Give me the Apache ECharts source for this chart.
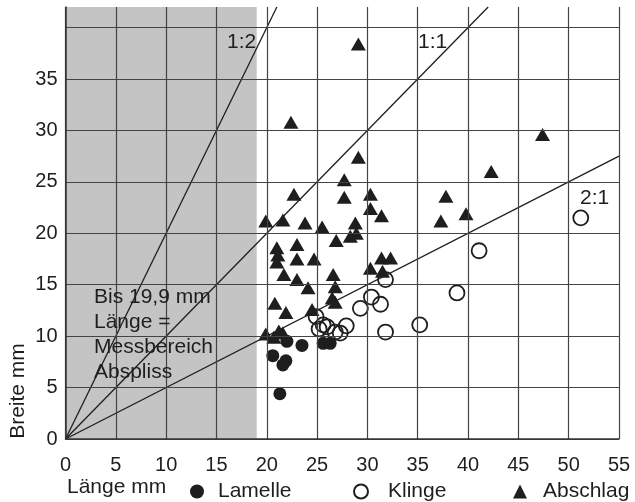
<!DOCTYPE html>
<html>
<head>
<meta charset="utf-8">
<script src="https://cdn.jsdelivr.net/npm/echarts@6/dist/echarts.min.js"></script>
<style>
  html, body { margin: 0; padding: 0; background: #fff; }
  #chart { width: 635px; height: 502px; }
</style>
</head>
<body>
<div id="chart"></div>
<script>
// Länge / Breite of the pieces, in mm: [Länge, Breite]
const lamelle = [
  [22.0, 9.5], [23.5, 9.1], [20.6, 8.1], [21.6, 7.2], [21.9, 7.6],
  [21.3, 4.4], [25.6, 9.3], [26.3, 9.3]
];
const klinge = [
  [51.2, 21.5], [41.1, 18.3], [38.9, 14.2], [35.2, 11.1], [31.8, 15.5],
  [30.4, 13.8], [31.3, 13.1], [29.3, 12.7], [31.8, 10.4], [27.9, 11.0],
  [27.3, 10.3], [26.8, 10.4], [26.0, 10.9], [25.2, 10.7], [24.9, 11.9],
  [25.6, 11.1]
];
const abschlag = [
  [29.1, 38.4], [22.4, 30.8], [29.1, 27.4], [47.4, 29.6], [42.3, 26.0],
  [37.8, 23.6], [37.3, 21.2], [39.8, 21.9], [27.7, 25.2], [27.7, 23.5],
  [30.3, 23.8], [30.3, 22.4], [31.4, 21.7], [22.7, 23.8], [19.9, 21.2],
  [21.6, 21.3], [23.8, 21.0], [25.5, 20.6], [28.8, 21.0], [28.9, 20.0],
  [28.3, 19.7], [26.9, 19.3], [23.0, 18.9], [21.0, 18.6], [21.1, 17.9],
  [23.0, 17.5], [24.7, 17.5], [21.0, 17.2], [31.4, 17.6], [32.3, 17.6],
  [30.3, 16.6], [31.5, 16.3], [21.7, 16.0], [23.0, 15.5], [26.6, 16.0],
  [24.1, 14.7], [26.8, 14.8], [26.5, 13.7], [26.8, 13.3], [20.8, 13.2],
  [21.9, 12.3], [24.5, 12.6], [19.9, 10.2], [21.2, 10.5], [20.7, 9.9],
  [21.6, 10.3]
];

// Breite : Länge reference ratios, drawn as rays from the origin
const ratioNames = ['1:2', '1:1', '2:1'];
const ratioSlopes = [2, 1, 0.5];

// Axis ranges
const xMax = 55;
const yMax = 42;
const tickStep = 5;
// Upper end of the grey measuring band
const messbereichEnd = 19;

const ink = '#1e1e1e';
const font = '"Liberation Sans", Arial, sans-serif';

function rayEnd(slope) {
  const y = slope * xMax;
  return y <= yMax ? [xMax, y] : [yMax / slope, yMax];
}

const ratioSeries = ratioSlopes.map((s, i) => ({
  name: ratioNames[i],
  type: 'line',
  data: [[0, 0], rayEnd(s)],
  symbol: 'none',
  silent: true,
  lineStyle: { color: ink, width: 1.3 },
  z: 1
}));

const chart = echarts.init(document.getElementById('chart'), null, { renderer: 'canvas' });

chart.setOption({
  animation: false,
  backgroundColor: '#fff',
  textStyle: { fontFamily: font, color: ink },
  grid: { left: 65.5, right: 16, top: 7, bottom: 63, containLabel: false },
  xAxis: {
    type: 'value', min: 0, max: xMax, interval: tickStep, z: 10,
    axisLine: { lineStyle: { color: '#333', width: 1.5 } },
    axisTick: { show: false },
    axisLabel: { fontSize: 20, color: ink, margin: 16, fontFamily: font },
    splitLine: { lineStyle: { color: '#444', width: 1.2 } }
  },
  yAxis: {
    type: 'value', min: 0, max: yMax, interval: tickStep, z: 10,
    axisLine: { show: true, lineStyle: { color: '#333', width: 1.5 } },
    axisTick: { show: false },
    axisLabel: {
      fontSize: 20, color: ink, margin: 8, fontFamily: font,
      showMaxLabel: false,
      formatter: v => (v >= 40 ? '' : String(v))
    },
    splitLine: { showMaxLine: false, lineStyle: { color: '#444', width: 1.2 } }
  },
  legend: [
    {
      data: ['Lamelle'], left: 185, top: 476, itemWidth: 14, itemHeight: 14,
      textStyle: { fontSize: 21, color: ink, fontFamily: font, padding: [0, 0, 0, 9] }
    },
    {
      data: ['Klinge'], left: 348, top: 476, itemWidth: 14, itemHeight: 14,
      textStyle: { fontSize: 21, color: ink, fontFamily: font, padding: [0, 0, 0, 15] }
    },
    {
      data: ['Abschlag'], left: 508, top: 476, itemWidth: 14, itemHeight: 14,
      textStyle: { fontSize: 21, color: ink, fontFamily: font, padding: [0, 0, 0, 11] }
    }
  ],
  series: [
    {
      name: 'Messbereich',
      type: 'scatter',
      data: [],
      silent: true,
      z: 0,
      markArea: {
        silent: true,
        itemStyle: { color: '#c4c4c4' },
        data: [[{ xAxis: 0, yAxis: 0 }, { xAxis: messbereichEnd, yAxis: yMax }]]
      }
    },
    ...ratioSeries,
    {
      name: 'Lamelle',
      type: 'scatter',
      data: lamelle,
      symbol: 'circle',
      symbolSize: 13,
      itemStyle: { color: ink, opacity: 1 },
      z: 3
    },
    {
      name: 'Klinge',
      type: 'scatter',
      data: klinge,
      symbol: 'circle',
      symbolSize: 15,
      itemStyle: { color: 'rgba(0,0,0,0)', borderColor: ink, borderWidth: 1.8, opacity: 1 },
      z: 3
    },
    {
      name: 'Abschlag',
      type: 'scatter',
      data: abschlag,
      symbol: 'triangle',
      symbolSize: [15, 13],
      itemStyle: { color: ink, opacity: 1 },
      z: 3
    }
  ],
  graphic: {
    elements: [
      {
        type: 'text', left: 67, top: 477, z: 100,
        style: { text: 'Länge mm', font: '21px ' + font, fill: ink }
      },
      {
        type: 'text', x: 18, y: 391, rotation: Math.PI / 2, z: 100,
        style: { text: 'Breite mm', font: '21px ' + font, fill: ink, align: 'center', verticalAlign: 'middle' }
      },
      {
        type: 'text', left: 94, top: 285, z: 100,
        style: {
          text: 'Bis 19,9 mm\nLänge =\nMessbereich\nAbspliss',
          font: '21px ' + font, fill: ink, lineHeight: 25
        }
      },
      {
        type: 'text', left: 227, top: 32, z: 100,
        style: { text: '1:2', font: '21px ' + font, fill: ink }
      },
      {
        type: 'text', left: 418, top: 32, z: 100,
        style: { text: '1:1', font: '21px ' + font, fill: ink }
      },
      {
        type: 'text', left: 580, top: 188, z: 100,
        style: { text: '2:1', font: '21px ' + font, fill: ink }
      }
    ]
  }
});
</script>
</body>
</html>
